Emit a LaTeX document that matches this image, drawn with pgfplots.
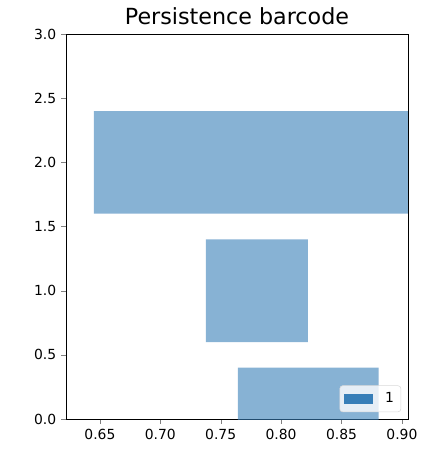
\documentclass[border=0pt]{standalone}
\usepackage{pgfplots}
\pgfplotsset{compat=1.18}
\usepackage{pgfplotstable}
\usepackage{fontspec}
\setmainfont{DejaVu Sans}
\definecolor{barblue}{HTML}{377EB8}
\pgfplotstableread{
y birth death
0 0.7642 0.8807
1 0.7377 0.8222
2 0.6450 0.9200
}\bars
\begin{document}
\begin{tikzpicture}
\begin{axis}[
  name=ax,
  width=246.2pt, height=277.2pt, scale only axis,
  xmin=0.6219, xmax=0.905, ymin=0, ymax=3,
  xtick={0.65,0.70,0.75,0.80,0.85,0.90},
  ytick={0,0.5,1,1.5,2,2.5,3},
  xticklabel style={/pgf/number format/.cd,fixed,fixed zerofill,precision=2},
  yticklabel style={/pgf/number format/.cd,fixed,fixed zerofill,precision=1},
  /pgf/number format/assume math mode=true,
  tick label style={font=\fontsize{10}{12}\selectfont},
  tick align=outside, tick pos=left, major tick length=3.5pt,
  title={\fontsize{16}{19}\selectfont Persistence barcode},
  title style={yshift=-3pt},
  xbar stacked, bar width=0.8,
  axis line style={line width=0.6pt},
  legend style={at={(0.98,0.018)}, anchor=south east, draw=gray!30, rounded corners=2pt,
    fill=white, fill opacity=0.8, text opacity=1, font=\fontsize{10}{12}\selectfont,
    inner xsep=3pt, inner ysep=3pt, row sep=0pt},
  legend cell align=left,
  legend image code/.code={\fill[barblue, fill opacity=1, sharp corners] (0pt,-3.6pt) rectangle (21pt,3.6pt);},
]
\addplot[draw=none, fill=none, forget plot] table[x=birth, y=y] {\bars};
\addplot[draw=none, fill=barblue, fill opacity=0.6] table[x expr=\thisrow{death}-\thisrow{birth}, y=y] {\bars};
\addlegendentry{\hspace{6.5pt}1}
\end{axis}
\path (ax.south west) ++(-47.5pt,-25.9pt) coordinate (bl);
\path (ax.north east) ++(10.8pt,24.5pt) coordinate (tr);
\useasboundingbox (bl) rectangle (tr);
\end{tikzpicture}
\end{document}
